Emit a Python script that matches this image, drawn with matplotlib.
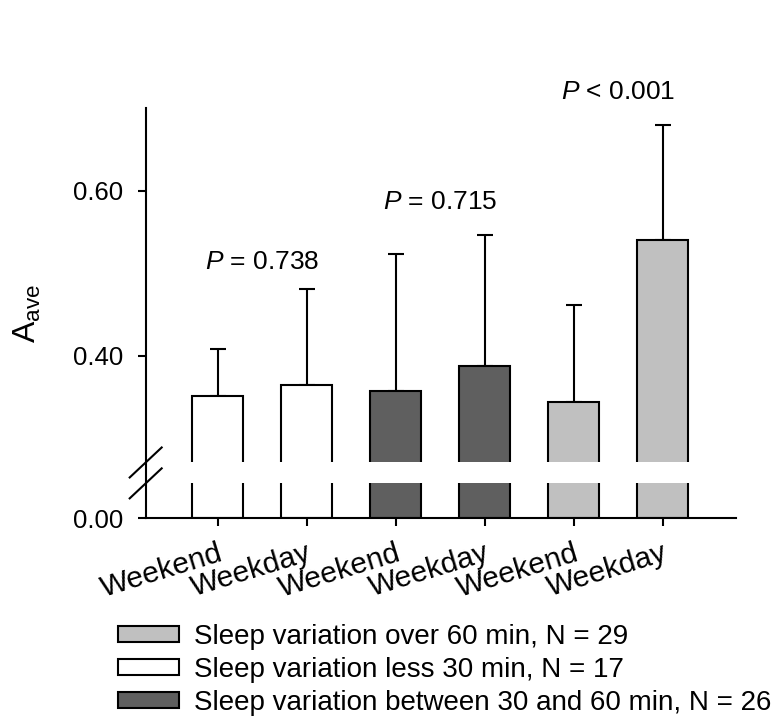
import numpy as np
import matplotlib.pyplot as plt
from matplotlib.patches import Patch

plt.rcParams['font.family'] = ['Liberation Sans', 'DejaVu Sans']
plt.rcParams['mathtext.fontset'] = 'custom'
plt.rcParams['mathtext.rm'] = 'Liberation Sans'
plt.rcParams['mathtext.it'] = 'Liberation Sans:italic'
plt.rcParams['mathtext.bf'] = 'Liberation Sans:bold'

# data
day_labels = ['Weekend', 'Weekday', 'Weekend', 'Weekday', 'Weekend', 'Weekday']
means = [0.351, 0.365, 0.358, 0.388, 0.344, 0.541]
sds = [0.057, 0.116, 0.165, 0.159, 0.118, 0.139]
p_labels = ['$P$ = 0.738', '$P$ = 0.715', '$P$ < 0.001']
legend_labels = ['Sleep variation over 60 min, N = 29',
                 'Sleep variation less 30 min, N = 17',
                 'Sleep variation between 30 and 60 min, N = 26']

white, dark, light = 'white', '#5f5f5f', '#c0c0c0'
bar_colors = [white, white, dark, dark, light, light]
legend_colors = [light, white, dark]
lw = 1.5

# broken axis: 0..0.042 shown, then jump to 0.271
lo, hi = 0.042, 0.271
gap = 0.0253
kd = [-1.0, lo, hi, 3.0]
kp = [-1.0, lo, lo + gap, 3.0 - hi + lo + gap]


def fwd(y):
    return np.interp(y, kd, kp)


def inv(y):
    return np.interp(y, kp, kd)


fig = plt.figure(figsize=(7.77, 7.22), dpi=100)
ax = fig.add_axes([0.1875, 0.2825, 0.7595, 0.5675])
ax.set_yscale('function', functions=(fwd, inv))

x = np.arange(len(means))
ax.bar(x, means, width=0.57, color=bar_colors, edgecolor='black', linewidth=lw, zorder=1)
ax.errorbar(x, means, yerr=[np.zeros(len(sds)), sds], fmt='none', ecolor='black',
            elinewidth=lw, capsize=6, capthick=lw, zorder=0.9)

# white band hides the bars in the break
ax.axhspan(lo, hi, color='white', lw=0, zorder=2.2)

ax.set_xlim(-0.81, 5.82)
ax.set_ylim(0, 0.70)
ax.set_yticks([0, 0.4, 0.6])
ax.set_yticklabels(['0.00', '0.40', '0.60'])
ax.set_xticks(x)
ax.set_xticklabels(day_labels, rotation=17, ha='right', va='top', rotation_mode='anchor')
ax.tick_params(axis='y', labelsize=18.5, length=6, width=lw, pad=10)
ax.tick_params(axis='x', labelsize=21.5, length=6, width=lw, pad=9)
for s in ['top', 'right']:
    ax.spines[s].set_visible(False)
for s in ['left', 'bottom']:
    ax.spines[s].set_linewidth(lw)
ax.set_ylabel(r'$\mathrm{A}_{\mathrm{ave}}$', fontsize=23, labelpad=22)

# break marks on the y axis
fw, fh = fig.get_size_inches() * fig.dpi
aw, ah = 0.7595 * fw, 0.5675 * fh
dx, dy = 16 / aw, 15 / ah
ytop = 0.70 - hi + lo + gap
for yb in [lo / ytop, (lo + gap) / ytop]:
    ax.plot([-dx, dx], [yb - dy, yb + dy], transform=ax.transAxes, color='black',
            lw=lw, clip_on=False, zorder=5)

# P values between each pair
p_y = [0.514, 0.587, 0.72]
for i, (t, yy) in enumerate(zip(p_labels, p_y)):
    ax.text(2 * i + 0.5, yy, t, ha='center', va='center', fontsize=19, clip_on=False)

handles = [Patch(facecolor=c, edgecolor='black', linewidth=lw) for c in legend_colors]
fig.legend(handles, legend_labels, loc='upper left', bbox_to_anchor=(118 / 777, 1 - 624 / 722),
           frameon=False, fontsize=20, borderpad=0, borderaxespad=0, handlelength=2.2,
           handleheight=0.47, handletextpad=0.55, labelspacing=0.25)

fig.savefig('out.png', dpi=100)
